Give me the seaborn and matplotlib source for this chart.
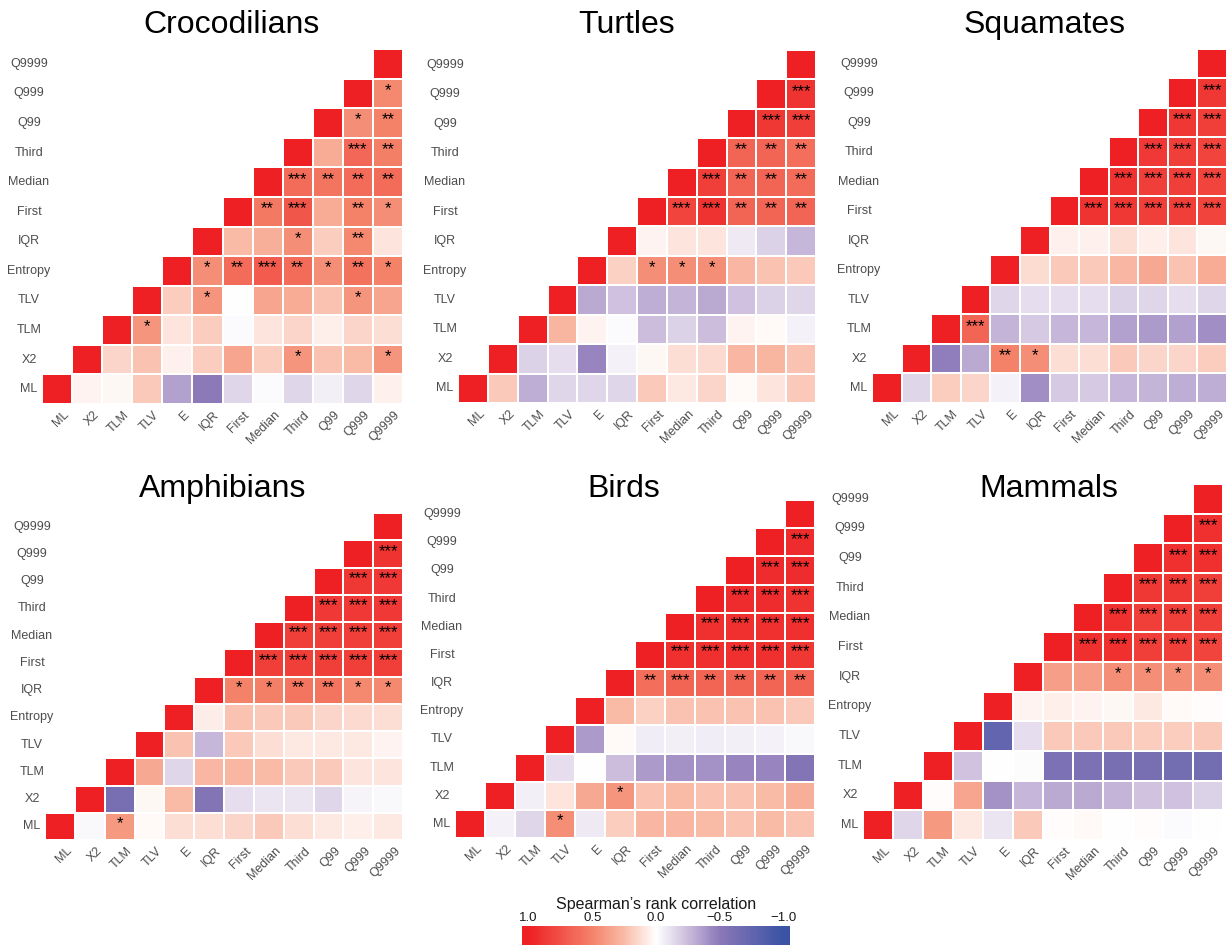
import numpy as np
import pandas as pd
import matplotlib
matplotlib.use("Agg")
import matplotlib.pyplot as plt
import matplotlib.transforms as mtransforms
from matplotlib.colors import LinearSegmentedColormap, Normalize
from matplotlib.cm import ScalarMappable
import seaborn as sns

sns.set_theme(style="white")
plt.rcParams["font.family"] = ["Liberation Sans", "DejaVu Sans"]

# ---------------------------------------------------------------- labels
x_labels = ["ML", "X2", "TLM", "TLV", "E", "IQR", "First", "Median",
            "Third", "Q99", "Q999", "Q9999"]
y_labels = ["ML", "X2", "TLM", "TLV", "Entropy", "IQR", "First", "Median",
            "Third", "Q99", "Q999", "Q9999"]
cbar_ticks = [1.0, 0.5, 0.0, -0.5, -1.0]

# Each row lists Spearman's rho of that variable with every variable to the
# right of it (upper triangle, diagonal excluded); *_sig holds star counts.
croc_rho = [
    [0.04, 0.03, 0.20, -0.35, -0.50, -0.15, -0.02, -0.15, -0.06, -0.15, 0.05],
    [0.15, 0.22, 0.05, 0.18, 0.35, 0.18, 0.42, 0.22, 0.25, 0.42],
    [0.42, 0.10, 0.18, -0.02, 0.10, 0.15, 0.06, 0.15, 0.12],
    [0.18, 0.42, 0.00, 0.35, 0.32, 0.22, 0.42, 0.35],
    [0.45, 0.62, 0.70, 0.62, 0.45, 0.58, 0.50],
    [0.25, 0.30, 0.45, 0.18, 0.47, 0.10],
    [0.55, 0.72, 0.32, 0.50, 0.45],
    [0.62, 0.57, 0.62, 0.62],
    [0.32, 0.64, 0.52],
    [0.45, 0.50],
    [0.47],
]
croc_sig = [
    [0, 0, 0, 0, 0, 0, 0, 0, 0, 0, 0],
    [0, 0, 0, 0, 0, 0, 1, 0, 0, 1],
    [1, 0, 0, 0, 0, 0, 0, 0, 0],
    [0, 1, 0, 0, 0, 0, 1, 0],
    [1, 2, 3, 2, 1, 2, 1],
    [0, 0, 1, 0, 2, 0],
    [2, 3, 0, 2, 1],
    [3, 2, 2, 2],
    [0, 3, 2],
    [1, 2],
    [1],
]

turtle_rho = [
    [0.20, -0.30, -0.15, -0.15, -0.15, 0.20, 0.08, 0.15, 0.02, 0.10, 0.20],
    [-0.17, -0.12, -0.45, -0.05, 0.03, 0.12, 0.14, 0.27, 0.28, 0.22],
    [0.28, 0.04, -0.02, -0.25, -0.17, -0.25, 0.04, 0.02, -0.05],
    [-0.32, -0.23, -0.30, -0.28, -0.32, -0.23, -0.17, -0.15],
    [0.17, 0.45, 0.45, 0.45, 0.27, 0.22, 0.20],
    [0.04, 0.10, 0.10, -0.08, -0.17, -0.27],
    [0.82, 0.90, 0.65, 0.65, 0.65],
    [0.85, 0.65, 0.65, 0.62],
    [0.65, 0.65, 0.60],
    [0.88, 0.85],
    [0.90],
]
turtle_sig = [
    [0, 0, 0, 0, 0, 0, 0, 0, 0, 0, 0],
    [0, 0, 0, 0, 0, 0, 0, 0, 0, 0],
    [0, 0, 0, 0, 0, 0, 0, 0, 0],
    [0, 0, 0, 0, 0, 0, 0, 0],
    [0, 1, 1, 1, 0, 0, 0],
    [0, 0, 0, 0, 0, 0],
    [3, 3, 2, 2, 2],
    [3, 2, 2, 2],
    [2, 2, 2],
    [3, 3],
    [3],
]

squamate_rho = [
    [-0.15, 0.18, 0.15, -0.05, -0.42, -0.20, -0.20, -0.27, -0.28, -0.30, -0.30],
    [-0.48, -0.32, 0.50, 0.45, 0.12, 0.12, 0.20, 0.15, 0.15, 0.18],
    [0.65, -0.28, -0.20, -0.27, -0.27, -0.35, -0.37, -0.35, -0.42],
    [-0.15, -0.12, -0.12, -0.12, -0.17, -0.15, -0.12, -0.15],
    [0.13, 0.20, 0.20, 0.27, 0.33, 0.22, 0.32],
    [0.05, 0.05, 0.12, 0.06, 0.10, 0.03],
    [0.90, 0.88, 0.85, 0.85, 0.82],
    [0.90, 0.85, 0.85, 0.82],
    [0.87, 0.85, 0.82],
    [0.88, 0.85],
    [0.88],
]
squamate_sig = [
    [0, 0, 0, 0, 0, 0, 0, 0, 0, 0, 0],
    [0, 0, 2, 1, 0, 0, 0, 0, 0, 0],
    [3, 0, 0, 0, 0, 0, 0, 0, 0],
    [0, 0, 0, 0, 0, 0, 0, 0],
    [0, 0, 0, 0, 0, 0, 0],
    [0, 0, 0, 0, 0, 0],
    [3, 3, 3, 3, 3],
    [3, 3, 3, 3],
    [3, 3, 3],
    [3, 3],
    [3],
]

amphibian_rho = [
    [-0.03, 0.40, 0.02, 0.12, 0.12, 0.15, 0.20, 0.12, 0.08, 0.06, 0.08],
    [-0.62, 0.03, 0.25, -0.55, -0.12, -0.10, -0.10, -0.15, -0.04, -0.03],
    [0.33, -0.15, 0.27, 0.27, 0.25, 0.20, 0.20, 0.10, 0.10],
    [0.22, -0.27, 0.20, 0.12, 0.08, 0.08, 0.08, 0.04],
    [0.07, 0.22, 0.20, 0.20, 0.15, 0.14, 0.12],
    [0.50, 0.52, 0.57, 0.57, 0.47, 0.47],
    [0.85, 0.85, 0.85, 0.85, 0.85],
    [0.85, 0.85, 0.85, 0.85],
    [0.87, 0.87, 0.87],
    [0.88, 0.87],
    [0.90],
]
amphibian_sig = [
    [0, 1, 0, 0, 0, 0, 0, 0, 0, 0, 0],
    [0, 0, 0, 0, 0, 0, 0, 0, 0, 0],
    [0, 0, 0, 0, 0, 0, 0, 0, 0],
    [0, 0, 0, 0, 0, 0, 0, 0],
    [0, 0, 0, 0, 0, 0, 0],
    [1, 1, 2, 2, 1, 1],
    [3, 3, 3, 3, 3],
    [3, 3, 3, 3],
    [3, 3, 3],
    [3, 3],
    [3],
]

bird_rho = [
    [-0.05, -0.15, 0.45, -0.08, 0.18, 0.27, 0.27, 0.25, 0.22, 0.25, 0.22],
    [-0.06, 0.10, 0.33, 0.42, 0.22, 0.25, 0.22, 0.22, 0.25, 0.30],
    [-0.12, 0.00, -0.25, -0.37, -0.40, -0.40, -0.45, -0.45, -0.55],
    [-0.37, 0.02, -0.07, -0.06, -0.07, -0.06, -0.05, -0.03],
    [0.25, 0.17, 0.22, 0.22, 0.22, 0.22, 0.20],
    [0.60, 0.65, 0.65, 0.65, 0.65, 0.65],
    [0.92, 0.92, 0.92, 0.92, 0.88],
    [0.92, 0.92, 0.92, 0.92],
    [0.93, 0.93, 0.90],
    [0.93, 0.93],
    [0.93],
]
bird_sig = [
    [0, 0, 1, 0, 0, 0, 0, 0, 0, 0, 0],
    [0, 0, 0, 1, 0, 0, 0, 0, 0, 0],
    [0, 0, 0, 0, 0, 0, 0, 0, 0],
    [0, 0, 0, 0, 0, 0, 0, 0],
    [0, 0, 0, 0, 0, 0, 0],
    [2, 3, 2, 2, 2, 2],
    [3, 3, 3, 3, 3],
    [3, 3, 3, 3],
    [3, 3, 3],
    [3, 3],
    [3],
]

mammal_rho = [
    [-0.15, 0.40, 0.08, -0.10, 0.20, 0.01, 0.02, 0.00, 0.01, -0.02, 0.00],
    [0.01, 0.35, -0.40, -0.27, -0.32, -0.32, -0.28, -0.22, -0.23, -0.17],
    [-0.22, 0.00, -0.01, -0.60, -0.60, -0.62, -0.62, -0.65, -0.65],
    [-0.75, -0.12, 0.20, 0.20, 0.20, 0.18, 0.18, 0.20],
    [0.04, 0.06, 0.04, 0.03, 0.08, 0.02, 0.01],
    [0.38, 0.38, 0.45, 0.45, 0.45, 0.45],
    [0.92, 0.92, 0.85, 0.85, 0.82],
    [0.92, 0.85, 0.85, 0.85],
    [0.88, 0.88, 0.85],
    [0.92, 0.92],
    [0.92],
]
mammal_sig = [
    [0, 0, 0, 0, 0, 0, 0, 0, 0, 0, 0],
    [0, 0, 0, 0, 0, 0, 0, 0, 0, 0],
    [0, 0, 0, 0, 0, 0, 0, 0, 0],
    [0, 0, 0, 0, 0, 0, 0, 0],
    [0, 0, 0, 0, 0, 0, 0],
    [0, 0, 1, 1, 1, 1],
    [3, 3, 3, 3, 3],
    [3, 3, 3, 3],
    [3, 3, 3],
    [3, 3],
    [3],
]

# ---------------------------------------------------------------- styling
cmap = LinearSegmentedColormap.from_list(
    "spearman",
    [(0.000, "#3A53A4"), (0.250, "#8C78B8"), (0.375, "#CBBCDC"),
     (0.500, "#FFFFFF"), (0.625, "#F9BBA7"), (0.750, "#F4836A"),
     (1.000, "#EE2024")],
)
norm = Normalize(vmin=-1, vmax=1)
label_grey = "#4D4D4D"

W, H = 1229, 949
fig = plt.figure(figsize=(W / 100, H / 100), dpi=100)


def axes_px(left, top, right, bottom):
    return fig.add_axes([left / W, 1 - bottom / H, (right - left) / W,
                         (bottom - top) / H])


def build_frames(rho, sig):
    n = len(x_labels)
    vals = np.eye(n)
    stars = np.full((n, n), "", dtype=object)
    for i, (r_row, s_row) in enumerate(zip(rho, sig)):
        vals[i, i + 1:] = r_row
        stars[i, i + 1:] = ["*" * k for k in s_row]
    rows, cols = np.indices((n, n))
    hide = cols < rows
    # top row of the heatmap is the last variable
    df = pd.DataFrame(vals[::-1], index=y_labels[::-1], columns=x_labels)
    annot = pd.DataFrame(stars[::-1], index=y_labels[::-1], columns=x_labels)
    mask = hide[::-1]
    return df, annot, mask


panels = [
    ("Crocodilians", croc_rho, croc_sig, (42, 49, 403, 404), (231, 33)),
    ("Turtles", turtle_rho, turtle_sig, (458, 50, 816, 403), (627, 33)),
    ("Squamates", squamate_rho, squamate_sig, (872, 49, 1227, 403), (1045, 33)),
    ("Amphibians", amphibian_rho, amphibian_sig, (45, 513, 403, 840), (223, 497)),
    ("Birds", bird_rho, bird_sig, (455, 500, 815, 838), (624, 497)),
    ("Mammals", mammal_rho, mammal_sig, (863, 484, 1223, 840), (1049, 497)),
]

for title, rho, sig, box, tpos in panels:
    ax = axes_px(*box)
    df, annot, mask = build_frames(rho, sig)
    sns.heatmap(df, mask=mask, cmap=cmap, norm=norm, vmin=-1, vmax=1,
                linewidths=1.2, linecolor="white", cbar=False, ax=ax,
                annot=annot, fmt="",
                annot_kws={"fontsize": 12, "color": "black"})
    # tick labels sit above the (white-edged) masked cells
    ax.set_axisbelow(False)
    for t in ax.texts:
        tx, ty = t.get_position()
        t.set_position((tx, ty - 0.1))
    ax.tick_params(axis="both", length=0)
    ax.tick_params(axis="y", pad=9.4)
    ax.set_xticklabels(x_labels, rotation=45, ha="right", va="top",
                       rotation_mode="anchor", fontsize=9, color=label_grey)
    ax.set_yticklabels(y_labels[::-1], rotation=0, ha="center", fontsize=9,
                       color=label_grey)
    shift = mtransforms.ScaledTranslation(6 / 100, 0, fig.dpi_scale_trans)
    for lab in ax.get_xticklabels():
        lab.set_transform(lab.get_transform() + shift)
    ax.set_xlabel("")
    ax.set_ylabel("")
    fig.text(tpos[0] / W, 1 - tpos[1] / H, title, ha="center",
             va="baseline", fontsize=23, color="black")

# ---------------------------------------------------------------- colour bar
cax = axes_px(522, 926, 790, 945)
sm = ScalarMappable(norm=norm, cmap=cmap)
cb = fig.colorbar(sm, cax=cax, orientation="horizontal",
                  boundaries=np.linspace(-1.05, 1.05, 257))
cb.outline.set_visible(False)
cb.set_ticks(cbar_ticks)
cb.set_ticklabels([f"{t:.1f}".replace("-", "\u2212") for t in cbar_ticks])
cax.invert_xaxis()
cax.tick_params(axis="x", which="both", top=True, bottom=True,
                labeltop=True, labelbottom=False, direction="in",
                length=3.5, width=1, color="white", labelcolor="#1A1A1A",
                labelsize=9.5, pad=1.5)
fig.text(656 / W, 1 - 904 / H, "Spearman\u2019s rank correlation",
         ha="center", va="center", fontsize=11.5, color="#1A1A1A")

fig.savefig("out.png", dpi=100, facecolor="white")
